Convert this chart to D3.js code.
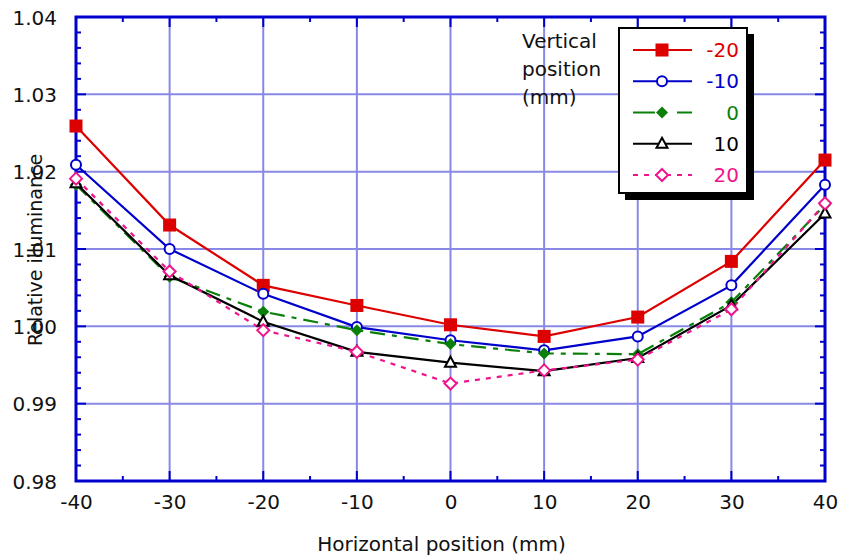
<!DOCTYPE html>
<html>
<head>
<meta charset="utf-8">
<script src="https://cdn.jsdelivr.net/npm/d3@7"></script>
<style>
  body { margin: 0; background: #fff; }
  svg { display: block; font-family: "DejaVu Sans", Verdana, sans-serif; }
</style>
</head>
<body>
<svg></svg>
<script>
const width = 844;
const height = 559;

// horizontal positions (mm)
const positions = [-40, -30, -20, -10, 0, 10, 20, 30, 40];

// relative illuminance per vertical position
const vm20 = [1.0259, 1.0131, 1.0053, 1.0027, 1.0002, 0.9987, 1.0012, 1.0084, 1.0215];
const vm10 = [1.0209, 1.0100, 1.0042, 0.9999, 0.9982, 0.9969, 0.9987, 1.0053, 1.0183];
const v0   = [1.0183, 1.0064, 1.0019, 0.9995, 0.9977, 0.9965, 0.9964, 1.0031, 1.0157];
const v10  = [1.0185, 1.0066, 1.0006, 0.9967, 0.9953, 0.9942, 0.9959, 1.0027, 1.0146];
const v20  = [1.0191, 1.0071, 0.9995, 0.9967, 0.9926, 0.9943, 0.9957, 1.0022, 1.0159];

const seriesNames = ["-20", "-10", "0", "10", "20"];
const xTicks = [-40, -30, -20, -10, 0, 10, 20, 30, 40];
const yTicks = [0.98, 0.99, 1.00, 1.01, 1.02, 1.03, 1.04];

const series = [
    { name: "-20", values: vm20, color: "#dd0000", dash: null, marker: "square" },
    { name: "-10", values: vm10, color: "#0000cc", dash: null, marker: "circle" },
    { name: "0",   values: v0,   color: "#0a800a", dash: "15,7,5,7", marker: "diamondFill" },
    { name: "10",  values: v10,  color: "#000000", dash: null, marker: "triangle" },
    { name: "20",  values: v20,  color: "#f0148c", dash: "5,6", marker: "diamond" }
];

const svg = d3.select("svg").attr("width", width).attr("height", height);

const pLeft = 76, pRight = 825, pTop = 17, pBottom = 481;

const x = d3.scaleLinear().domain([-40, 40]).range([pLeft, pRight]);
const y = d3.scaleLinear().domain([0.98, 1.04]).range([pBottom, pTop]);

const axisColor = "#0000cc";
const gridColor = "#8888e6";
const fontSize = "20px";

// gridlines
const grid = svg.append("g").attr("class", "grid");
grid.selectAll("line.v")
    .data(xTicks.slice(1, -1))
    .enter().append("line")
    .attr("x1", d => x(d)).attr("x2", d => x(d))
    .attr("y1", pTop).attr("y2", pBottom)
    .attr("stroke", gridColor).attr("stroke-width", 2);
grid.selectAll("line.h")
    .data(yTicks.slice(1, -1))
    .enter().append("line")
    .attr("x1", pLeft).attr("x2", pRight)
    .attr("y1", d => y(d)).attr("y2", d => y(d))
    .attr("stroke", gridColor).attr("stroke-width", 2);

// axes: ticks point inside on all four sides
const yMinor = d3.range(0.98, 1.0401, 0.002);
const xMinor = d3.range(-40, 40.01, 5);

const axisBottom = d3.axisBottom(x).tickValues(xTicks).tickSize(0).tickPadding(14).tickFormat(d => String(d));
const axisLeft = d3.axisLeft(y).tickValues(yTicks).tickSize(0).tickPadding(19).tickFormat(d => d.toFixed(2));

const gx = svg.append("g").attr("transform", `translate(0,${pBottom})`).call(axisBottom);
const gy = svg.append("g").attr("transform", `translate(${pLeft},0)`).call(axisLeft);
[gx, gy].forEach(g => {
    g.select(".domain").remove();
    g.selectAll("text").attr("fill", "#111").style("font-size", fontSize).style("font-family", "DejaVu Sans");
});
gy.selectAll("text").attr("dy", "0.36em");
gx.selectAll("text").attr("dy", "0.72em");

const ticks = svg.append("g").attr("stroke", axisColor).attr("stroke-width", 2);
const isMajorY = d => Math.abs(Math.round(d * 100) - d * 100) < 1e-6;
const isMajorX = d => d % 10 === 0;

ticks.selectAll("line.yl").data(yMinor).enter().append("line")
    .attr("x1", pLeft).attr("x2", d => pLeft + (isMajorY(d) ? 10 : 5))
    .attr("y1", d => y(d)).attr("y2", d => y(d));
ticks.selectAll("line.yr").data(yMinor).enter().append("line")
    .attr("x1", pRight).attr("x2", d => pRight - (isMajorY(d) ? 10 : 5))
    .attr("y1", d => y(d)).attr("y2", d => y(d));
ticks.selectAll("line.xb").data(xMinor).enter().append("line")
    .attr("x1", d => x(d)).attr("x2", d => x(d))
    .attr("y1", pBottom).attr("y2", d => pBottom - (isMajorX(d) ? 10 : 5));
ticks.selectAll("line.xt").data(xMinor).enter().append("line")
    .attr("x1", d => x(d)).attr("x2", d => x(d))
    .attr("y1", pTop).attr("y2", d => pTop + (isMajorX(d) ? 10 : 5));

// frame
svg.append("rect")
    .attr("x", pLeft).attr("y", pTop)
    .attr("width", pRight - pLeft).attr("height", pBottom - pTop)
    .attr("fill", "none").attr("stroke", axisColor).attr("stroke-width", 3);

// axis titles
svg.append("text")
    .attr("x", (pLeft + pRight) / 2 - 9).attr("y", 551)
    .attr("text-anchor", "middle")
    .style("font-size", fontSize).attr("fill", "#111")
    .text("Horizontal position (mm)");

svg.append("text")
    .attr("transform", "translate(42,250) rotate(-90)")
    .attr("text-anchor", "middle")
    .style("font-size", "19px").attr("fill", "#111")
    .text("Relative illuminance");

// "Vertical position (mm)" note
const note = svg.append("text").style("font-size", fontSize).attr("fill", "#111");
["Vertical", "position", "(mm)"].forEach((t, i) => {
    note.append("tspan").attr("x", 522).attr("y", 48 + i * 28).text(t);
});

// markers
function drawMarker(g, type, color, cx, cy) {
    if (type === "square") {
        g.append("rect").attr("x", cx - 6.5).attr("y", cy - 6.5).attr("width", 13).attr("height", 13)
            .attr("fill", color);
    } else if (type === "circle") {
        g.append("circle").attr("cx", cx).attr("cy", cy).attr("r", 5)
            .attr("fill", "#fff").attr("stroke", color).attr("stroke-width", 2);
    } else if (type === "diamondFill") {
        g.append("path").attr("d", `M${cx},${cy - 6}L${cx + 6},${cy}L${cx},${cy + 6}L${cx - 6},${cy}Z`)
            .attr("fill", color);
    } else if (type === "triangle") {
        g.append("path").attr("d", `M${cx},${cy - 6}L${cx + 5.5},${cy + 4}L${cx - 5.5},${cy + 4}Z`)
            .attr("fill", "#fff").attr("stroke", color).attr("stroke-width", 2);
    } else if (type === "diamond") {
        g.append("path").attr("d", `M${cx},${cy - 6}L${cx + 6},${cy}L${cx},${cy + 6}L${cx - 6},${cy}Z`)
            .attr("fill", "#fff").attr("stroke", color).attr("stroke-width", 2);
    }
}

const line = d3.line().x((d, i) => x(positions[i])).y(d => y(d));

const plot = svg.append("g").attr("class", "series");
series.forEach(s => {
    plot.append("path")
        .datum(s.values)
        .attr("d", line)
        .attr("fill", "none")
        .attr("stroke", s.color)
        .attr("stroke-width", 2.2)
        .attr("stroke-dasharray", s.dash);
});
series.forEach(s => {
    const g = plot.append("g");
    s.values.forEach((v, i) => drawMarker(g, s.marker, s.color, x(positions[i]), y(v)));
});

// legend
const lg = svg.append("g").attr("class", "legend");
lg.append("rect").attr("x", 625).attr("y", 34).attr("width", 129).attr("height", 166).attr("fill", "#000");
lg.append("rect").attr("x", 619).attr("y", 28).attr("width", 128).attr("height", 165)
    .attr("fill", "#fff").attr("stroke", "#000").attr("stroke-width", 2);

const rowY = d3.scalePoint().domain(seriesNames).range([50, 175]);
series.forEach(s => {
    const cy = rowY(s.name);
    lg.append("line")
        .attr("x1", 633).attr("x2", 692).attr("y1", cy).attr("y2", cy)
        .attr("stroke", s.color).attr("stroke-width", 2.2)
        .attr("stroke-dasharray", s.name === "20" ? "5,6" : s.dash ? "22,6,4,12" : null);
    drawMarker(lg, s.marker, s.color, 662, cy);
    lg.append("text")
        .attr("x", 739).attr("y", cy).attr("dy", "0.36em")
        .attr("text-anchor", "end")
        .style("font-size", fontSize)
        .attr("fill", s.color)
        .text(s.name);
});
</script>
</body>
</html>
